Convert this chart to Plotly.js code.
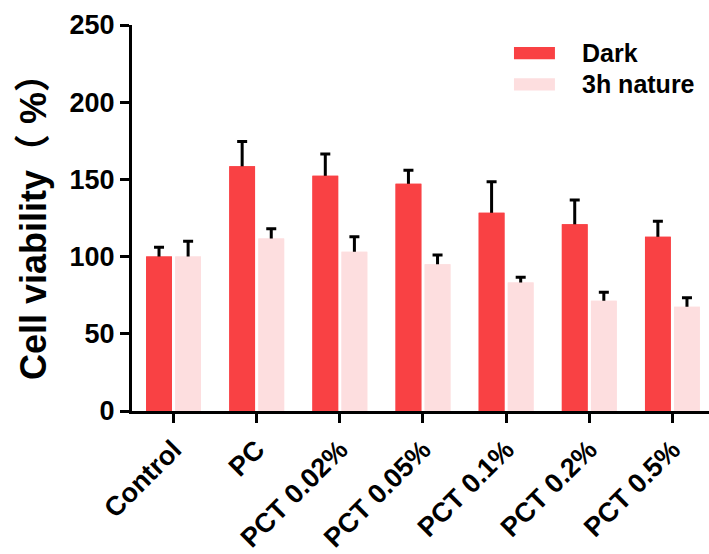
<!DOCTYPE html>
<html>
<head>
<meta charset="utf-8">
<script src="https://cdn.plot.ly/plotly-3.0.1.min.js"></script>
<style>html,body{margin:0;padding:0;background:#fff;}#chart{width:709px;height:554px;}</style>
</head>
<body>
<div id="chart"></div>
<script>
const categories = ["Control", "PC", "PCT 0.02%", "PCT 0.05%", "PCT 0.1%", "PCT 0.2%", "PCT 0.5%"];
const seriesNames = ["Dark", "3h nature"];
const darkValues = [100, 158.5, 152.4, 147.2, 128.4, 120.9, 112.9];
const darkErrors = [6, 16, 14, 8.7, 20, 15.8, 10];
const natureValues = [100, 111.8, 103.2, 95, 83.3, 71.4, 67.6];
const natureErrors = [10, 6.2, 9.7, 6, 3.3, 5.5, 5.8];
const yTicks = [0, 50, 100, 150, 200, 250];

const colors = ["#F94144", "#FDDEDF"];
const FONT = "Liberation Sans, Arial, Helvetica, Noto Sans CJK SC, sans-serif";
const barW = 0.31;
const offsets = [-0.33, 0.02];

const vals = [darkValues, natureValues];
const errs = [darkErrors, natureErrors];

const traces = [];
// bars with error bars
for (let s = 0; s < 2; s++) {
  traces.push({
    type: "bar", x: categories, y: vals[s], name: seriesNames[s],
    width: barW, offset: offsets[s],
    marker: {color: colors[s], line: {width: 0}},
    error_y: {type: "data", array: errs[s], symmetric: true, visible: true,
              color: "#000", thickness: 3, width: 5},
    showlegend: false, hoverinfo: "x+y"
  });
}
// cover bars hide the lower half of the error bars (as in the original)
for (let s = 0; s < 2; s++) {
  traces.push({
    type: "bar", x: categories, y: vals[s], name: seriesNames[s],
    width: barW, offset: offsets[s],
    marker: {color: colors[s], line: {width: 0}},
    showlegend: false, hoverinfo: "skip"
  });
}

// custom legend (wide swatches)
const legX0 = 0.662, legX1 = 0.733, legTextX = 0.776;
const legY = [0.927, 0.846];
const swH = 0.016;
const shapes = [], annotations = [];
for (let s = 0; s < 2; s++) {
  shapes.push({type: "rect", xref: "paper", yref: "paper",
    x0: legX0, x1: legX1, y0: legY[s] - swH, y1: legY[s] + swH,
    fillcolor: colors[s], line: {width: 0}});
  annotations.push({xref: "paper", yref: "paper", x: legTextX, y: legY[s],
    xanchor: "left", yanchor: "middle", showarrow: false,
    text: "<b>" + seriesNames[s] + "</b>",
    font: {family: FONT, size: 25, color: "#000"}});
}

const layout = {
  width: 709, height: 554,
  margin: {l: 132, r: 0, t: 25, b: 143, pad: 0},
  paper_bgcolor: "#fff", plot_bgcolor: "#fff",
  barmode: "overlay",
  showlegend: false,
  font: {family: FONT, color: "#000"},
  xaxis: {
    type: "category", range: [-0.5, 6.44],
    showline: true, linecolor: "#000", linewidth: 3,
    ticks: "outside", ticklen: 9, tickwidth: 3, tickcolor: "#000",
    tickangle: -45, showgrid: false, zeroline: false,
    tickfont: {family: FONT, size: 27, color: "#000", weight: "bold"},
    fixedrange: true
  },
  yaxis: {
    range: [0, 250], tickvals: yTicks, ticktext: yTicks.map(String),
    showline: true, linecolor: "#000", linewidth: 3,
    ticks: "outside", ticklen: 9, tickwidth: 3, tickcolor: "#000",
    showgrid: false, zeroline: false,
    tickfont: {family: FONT, size: 27, color: "#000", weight: "bold"},
    title: {text: "<b>Cell viability（ %）</b>", font: {family: FONT, size: 36, color: "#000"}, standoff: 12},
    fixedrange: true
  },
  shapes: shapes,
  annotations: annotations
};

Plotly.newPlot("chart", traces, layout, {displayModeBar: false, staticPlot: true});
</script>
</body>
</html>
